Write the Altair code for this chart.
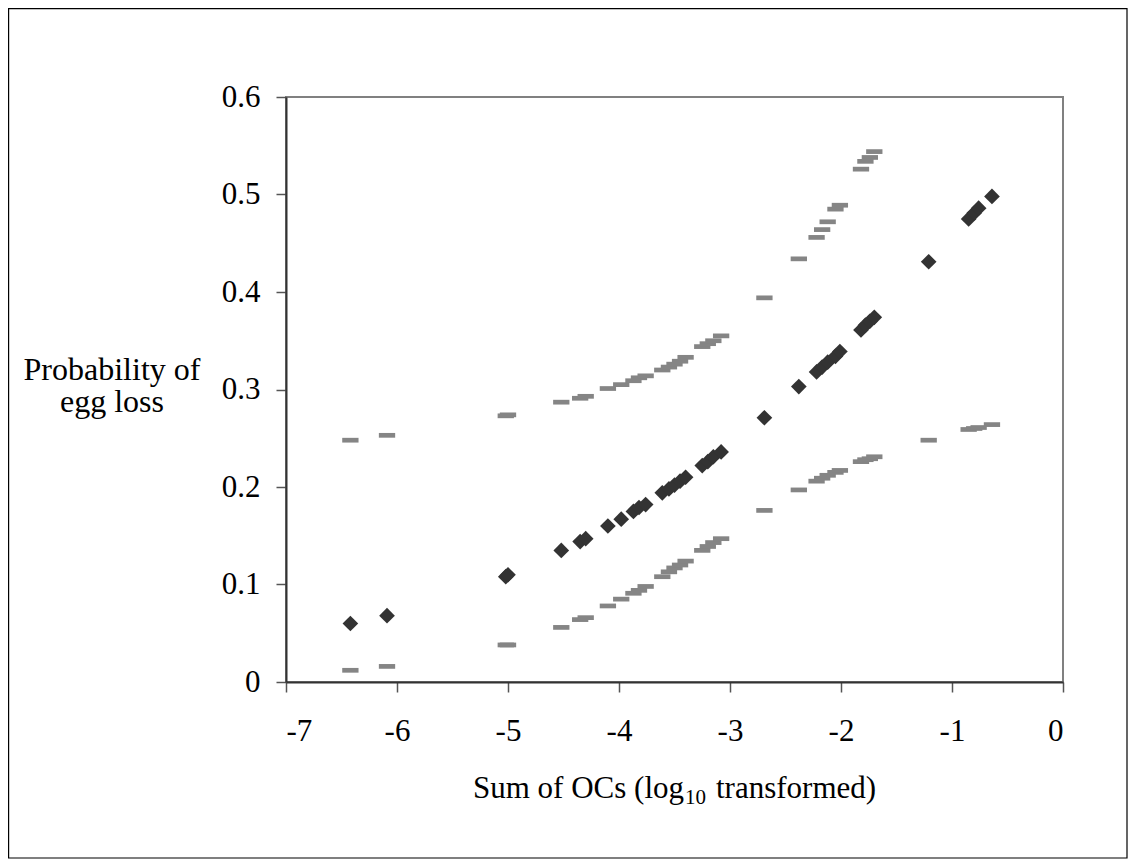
import altair as alt
import pandas as pd

# x positions (log10 sum of OCs)
x_vals = [-6.42, -6.09, -5.02, -5.00, -4.52, -4.35, -4.30, -4.10, -3.98, -3.87,
          -3.82, -3.76, -3.61, -3.55, -3.50, -3.45, -3.40, -3.25, -3.20, -3.15,
          -3.08, -2.69, -2.38, -2.22, -2.17, -2.12, -2.05, -2.01, -1.82, -1.78,
          -1.74, -1.70, -1.21, -0.85, -0.80, -0.76, -0.64]
# predicted probability (diamonds)
pred = [0.060, 0.068, 0.108, 0.110, 0.135, 0.144, 0.147, 0.160, 0.167, 0.175,
        0.179, 0.182, 0.194, 0.198, 0.202, 0.206, 0.210, 0.222, 0.226, 0.231,
        0.236, 0.271, 0.303, 0.318, 0.323, 0.328, 0.334, 0.339, 0.361, 0.366,
        0.370, 0.374, 0.431, 0.475, 0.481, 0.486, 0.498]
# upper bound (None = above the plotted range)
upper = [0.248, 0.253, 0.273, 0.274, 0.287, 0.291, 0.293, 0.301, 0.305, 0.309,
         0.312, 0.314, 0.320, 0.323, 0.326, 0.329, 0.333, 0.344, 0.347, 0.350,
         0.355, 0.394, 0.434, 0.456, 0.464, 0.472, 0.485, 0.489, 0.526, 0.534,
         0.538, 0.544, None, None, None, None, None]
# lower bound
lower = [0.012, 0.016, 0.038, 0.038, 0.056, 0.064, 0.066, 0.078, 0.085, 0.091,
         0.094, 0.098, 0.108, 0.113, 0.117, 0.120, 0.124, 0.135, 0.139, 0.143,
         0.147, 0.176, 0.197, 0.206, 0.209, 0.212, 0.215, 0.217, 0.226, 0.228,
         0.229, 0.231, 0.248, 0.259, 0.260, 0.261, 0.264]

x_ticks = [-7, -6, -5, -4, -3, -2, -1, 0]
y_ticks = [0, 0.1, 0.2, 0.3, 0.4, 0.5, 0.6]
y_title_lines = ["Probability of", "egg loss"]

FONT = "Liberation Serif"
W, H = 777, 585
PAD_L, PAD_T, PAD_R, PAD_B = 278, 89, 65, 180

rows = []
for xv, p, u, l in zip(x_vals, pred, upper, lower):
    rows.append({"x": xv, "y": p, "kind": "pred"})
    if u is not None:
        rows.append({"x": xv, "y": u, "kind": "bound"})
    rows.append({"x": xv, "y": l, "kind": "bound"})
df = pd.DataFrame(rows)

xscale = alt.Scale(domain=[-7, 0], nice=False, zero=False)
yscale = alt.Scale(domain=[0, 0.6], nice=False)

xaxis = alt.Axis(values=x_ticks, labelExpr="datum.value + ''", title=None,
                 grid=False, labelFont=FONT, labelFontSize=31, labelColor="#000",
                 labelPadding=24, tickSize=10, tickColor="#555", tickWidth=1.5,
                 domainColor="#333", domainWidth=2)
yaxis = alt.Axis(values=y_ticks,
                 labelExpr="datum.value == 0 ? '0' : format(datum.value, '.1f')",
                 title=None, grid=False, labelFont=FONT, labelFontSize=31,
                 labelColor="#000", labelPadding=16, tickSize=10, tickColor="#555",
                 tickWidth=1.5, domainColor="#333", domainWidth=2)

base = alt.Chart(df)

bounds = base.transform_filter(alt.datum.kind == "bound").mark_point(
    shape="M-1,-0.29L1,-0.29L1,0.29L-1,0.29Z", filled=True, opacity=1,
    color="#858585", size=266
).encode(
    x=alt.X("x:Q", scale=xscale, axis=xaxis),
    y=alt.Y("y:Q", scale=yscale, axis=yaxis),
)

diamonds = base.transform_filter(alt.datum.kind == "pred").mark_point(
    shape="diamond", filled=True, opacity=1, color="#333333", size=246
).encode(
    x=alt.X("x:Q", scale=xscale, axis=xaxis),
    y=alt.Y("y:Q", scale=yscale, axis=yaxis),
)

one = alt.Data(values=[{}])

def txt(text, x, y, size=31, align="left", baseline="alphabetic", lh=None):
    kw = dict(font=FONT, fontSize=size, color="#000", align=align, baseline=baseline)
    if lh is not None:
        kw["lineHeight"] = lh
    return alt.Chart(one).mark_text(**kw).encode(
        x=alt.value(x), y=alt.value(y), text=alt.value(text))

ytitle = txt(y_title_lines, -174, 283, size=32, align="center", lh=32)
xtitle1 = txt("Sum of OCs (log", 398, 701, align="right")
xtitle2 = txt("10", 399, 707, size=21, align="left")
xtitle3 = txt("transformed)", 430, 701, align="left")

border = alt.Chart(one).mark_rect(
    fill=None, stroke="#000", strokeWidth=1.2, clip=False
).encode(
    x=alt.value(-PAD_L + 0.6), x2=alt.value(W + PAD_R - 1),
    y=alt.value(-PAD_T + 0.6), y2=alt.value(761)
)

chart = alt.layer(
    border, bounds, diamonds, ytitle, xtitle1, xtitle2, xtitle3
).properties(
    width=W, height=H,
    autosize=alt.AutoSizeParams(type="none"),
    padding={"left": PAD_L, "top": PAD_T, "right": PAD_R, "bottom": PAD_B},
    background="white",
).configure_view(
    stroke="#808080", strokeWidth=2
)

chart.save("out.html", embed_options={"renderer": "svg", "actions": False})
